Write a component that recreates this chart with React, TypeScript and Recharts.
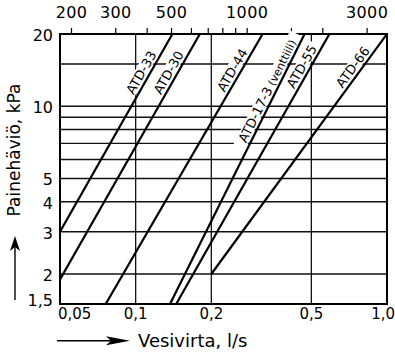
import {
  LineChart,
  Line,
  XAxis,
  YAxis,
  ReferenceLine,
  ReferenceArea,
  ReferenceDot,
} from 'recharts';

// Pressure drop of ATD dampers / valve vs. water flow (log-log)
const SERIES_NAMES = ['ATD-33', 'ATD-30', 'ATD-44', 'ATD-17-3', 'ATD-55', 'ATD-66'];
const SERIES_SUFFIX = ['', '', '', '(venttiili)', '', ''];
const FLOW_START = [0.05, 0.05, 0.076, 0.137, 0.145, 0.2];
const FLOW_END = [0.14, 0.18, 0.32, 0.47, 0.59, 1.0];
const PRESS_START = [3, 1.9, 1.5, 1.5, 1.5, 2];
const PRESS_END = [20, 20, 20, 20, 20, 20];

const X_TICKS = [0.05, 0.1, 0.2, 0.5, 1];
const X_TICK_LABELS = ['0,05', '0,1', '0,2', '0,5', '1,0'];
const X_GRID = [0.1, 0.2, 0.5];

const Y_TICKS = [1.5, 2, 3, 4, 5, 10, 20];
const Y_TICK_LABELS = ['1,5', '2', '3', '4', '5', '10', '20'];
const Y_GRID = [2, 3, 4, 5, 6, 7, 8, 9, 10, 15];

// top scale: same flow in l/h
const TOP_TICKS = [200, 300, 400, 500, 600, 700, 800, 900, 1000, 1500, 2000, 3000];
const TOP_LABELED = [200, 300, 500, 1000, 3000];

const X_DOMAIN = [0.05, 1];
const Y_DOMAIN = [1.5, 20];
const TOP_DOMAIN = [X_DOMAIN[0] * 3600, X_DOMAIN[1] * 3600];

// pressure along each line where its name sits
const LABEL_AT = [13.3, 13.3, 13.6, 11.2, 14.1, 13.9];

const CHART_W = 395;
const CHART_H = 356;
const MARGIN = { top: 4, right: 8, bottom: 12, left: 8 };
const Y_AXIS_W = 52;
const TOP_AXIS_H = 30;
const BOTTOM_AXIS_H = 40;
const PLOT_W = CHART_W - MARGIN.left - MARGIN.right - Y_AXIS_W;
const PLOT_H = CHART_H - MARGIN.top - MARGIN.bottom - TOP_AXIS_H - BOTTOM_AXIS_H;

const FONT = '"DejaVu Sans", sans-serif';

const series = SERIES_NAMES.map((name, i) => {
  const q1 = FLOW_START[i];
  const q2 = FLOW_END[i];
  const p1 = PRESS_START[i];
  const p2 = PRESS_END[i];
  const expo = Math.log(q2 / q1) / Math.log(p2 / p1);
  const lp = LABEL_AT[i];
  const dx = (Math.log(q2 / q1) / Math.log(X_DOMAIN[1] / X_DOMAIN[0])) * PLOT_W;
  const dy = (Math.log(p2 / p1) / Math.log(Y_DOMAIN[1] / Y_DOMAIN[0])) * PLOT_H;
  return {
    name,
    suffix: SERIES_SUFFIX[i],
    data: [
      { q: q1, p: p1 },
      { q: q2, p: p2 },
    ],
    labelQ: q1 * Math.pow(lp / p1, expo),
    labelP: lp,
    angle: (Math.atan2(dy, dx) * 180) / Math.PI,
  };
});

// the last line again in l/h, invisible, just so the top axis has something to scale
const hourData = series[series.length - 1].data.map((d) => ({ lh: d.q * 3600, p: d.p }));

const SeriesLabel = ({ cx, cy, angle, name, suffix }: any) => {
  const w = name.length * 8.2 + (suffix ? suffix.length * 5 + 4 : 0) + 4;
  return (
    <g transform={`translate(${cx},${cy}) rotate(${-angle})`}>
      <rect x={-w / 2} y={-14.5} width={w} height={12.5} fill="#fff" />
      <text x={0} y={-3.5} textAnchor="middle" fontSize={13} fill="#000">
        {name}
        {suffix ? <tspan fontSize={11}> {suffix}</tspan> : null}
      </text>
    </g>
  );
};

const FlowTick = ({ x, y, payload }: any) => {
  const i = X_TICKS.indexOf(payload.value);
  const last = i === X_TICKS.length - 1;
  const anchor = i === 0 ? 'start' : last ? 'end' : 'middle';
  const shift = i === 0 ? -2 : last ? 8 : 0;
  return (
    <text x={x + shift} y={y} dy="0.71em" textAnchor={anchor} fontSize={15} fill="#000">
      {X_TICK_LABELS[i]}
    </text>
  );
};

const HourTick = ({ x, y, payload }: any) => {
  if (!TOP_LABELED.includes(payload.value)) return <g />;
  return (
    <text x={x} y={y} textAnchor="middle" fontSize={16} letterSpacing={0.4} fill="#000">
      {payload.value}
    </text>
  );
};

const PressTick = ({ x, y, payload }: any) => {
  const i = Y_TICKS.indexOf(payload.value);
  const lift = i === 0 ? -4 : 1;
  return (
    <text x={x} y={y + lift} dy="0.36em" textAnchor="end" fontSize={16} fill="#000">
      {Y_TICK_LABELS[i]}
    </text>
  );
};

const YTitle = ({ viewBox }: any) => {
  const { x, y } = viewBox;
  const ax = x + 7;
  return (
    <g>
      <text
        transform={`translate(${x + 12},${y + 116}) rotate(-90)`}
        textAnchor="middle"
        fontSize={17}
        fill="#000"
      >
        Painehäviö, kPa
      </text>
      <line x1={ax} y1={y + 266} x2={ax} y2={y + 212} stroke="#000" strokeWidth={1.4} />
      <path
        d={`M${ax},${y + 202} L${ax - 5},${y + 217} L${ax},${y + 213} L${ax + 5},${y + 217} Z`}
        fill="#000"
      />
    </g>
  );
};

const XTitle = ({ viewBox }: any) => {
  const { x, y } = viewBox;
  const ay = y + 36.7;
  return (
    <g>
      <line x1={x - 3} y1={ay} x2={x + 52} y2={ay} stroke="#000" strokeWidth={1.4} />
      <path
        d={`M${x + 70},${ay} L${x + 46},${ay - 4.5} L${x + 51},${ay} L${x + 46},${ay + 4.5} Z`}
        fill="#000"
      />
      <text x={x + 78} y={y + 43} fontSize={18} fill="#000">
        Vesivirta, l/s
      </text>
    </g>
  );
};

export default function App() {
  return (
    <div style={{ position: 'absolute', left: 0, top: 0, fontFamily: FONT, background: '#fff' }}>
      <LineChart width={CHART_W} height={CHART_H} margin={MARGIN}>
        <XAxis
          xAxisId="q"
          dataKey="q"
          type="number"
          scale="log"
          domain={X_DOMAIN}
          allowDataOverflow
          ticks={X_TICKS}
          interval={0}
          height={BOTTOM_AXIS_H}
          tickLine={false}
          axisLine={false}
          tickSize={0}
          tickMargin={4}
          tick={<FlowTick />}
          label={{ content: (p: any) => <XTitle viewBox={p.viewBox} /> }}
        />
        <XAxis
          xAxisId="lh"
          dataKey="lh"
          orientation="top"
          type="number"
          scale="log"
          domain={TOP_DOMAIN}
          allowDataOverflow
          ticks={TOP_TICKS}
          interval={0}
          height={TOP_AXIS_H}
          axisLine={false}
          tickLine={{ stroke: '#000', strokeWidth: 1.2 }}
          tickSize={6}
          tickMargin={10}
          tick={<HourTick />}
        />
        <YAxis
          type="number"
          scale="log"
          domain={Y_DOMAIN}
          allowDataOverflow
          ticks={Y_TICKS}
          interval={0}
          width={Y_AXIS_W}
          tickLine={false}
          axisLine={false}
          tickSize={6}
          tickMargin={1}
          tick={<PressTick />}
          label={{ content: (p: any) => <YTitle viewBox={p.viewBox} /> }}
        />

        {Y_GRID.map((v) => (
          <ReferenceLine key={`gy-${v}`} xAxisId="q" y={v} stroke="#111" strokeWidth={1.3} />
        ))}
        {X_GRID.map((v) => (
          <ReferenceLine key={`gx-${v}`} xAxisId="q" x={v} stroke="#111" strokeWidth={1.3} />
        ))}
        <ReferenceArea
          xAxisId="q"
          x1={X_DOMAIN[0]}
          x2={X_DOMAIN[1]}
          y1={Y_DOMAIN[0]}
          y2={Y_DOMAIN[1]}
          fill="none"
          stroke="#000"
          strokeWidth={2}
          ifOverflow="visible"
        />

        {series.map((s) => (
          <ReferenceDot
            key={`lbl-${s.name}`}
            xAxisId="q"
            x={s.labelQ}
            y={s.labelP}
            r={0}
            shape={(p: any) => (
              <SeriesLabel cx={p.cx} cy={p.cy} angle={s.angle} name={s.name} suffix={s.suffix} />
            )}
          />
        ))}

        <Line
          xAxisId="lh"
          data={hourData}
          dataKey="p"
          stroke="none"
          dot={false}
          activeDot={false}
          isAnimationActive={false}
        />
        {series.map((s) => (
          <Line
            key={s.name}
            xAxisId="q"
            data={s.data}
            dataKey="p"
            type="linear"
            stroke="#000"
            strokeWidth={2.2}
            dot={false}
            activeDot={false}
            isAnimationActive={false}
          />
        ))}
      </LineChart>
    </div>
  );
}
